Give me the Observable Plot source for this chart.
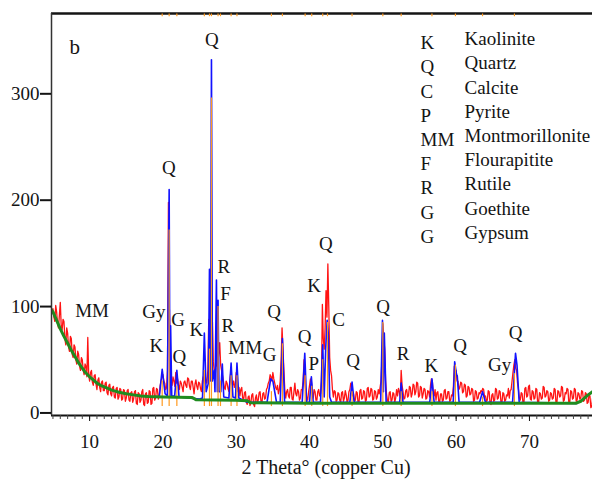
<!DOCTYPE html>
<html><head><meta charset="utf-8">
<script src="https://cdn.jsdelivr.net/npm/d3@7"></script>
<script src="https://cdn.jsdelivr.net/npm/@observablehq/plot@0.6"></script>
<style>body{margin:0;background:#fff} svg{display:block}</style>
</head><body><div id="chart"></div>
<script>
// Observed pattern (red), 2θ from 5° in 0.125° steps (8 values per degree)
const obsStart = 5, obsStep = 0.125;
const observed = [
 98,90,86,101,95,84,80,92,   104,82,78,88,86,70,64,80,   75,62,58,72,70,55,52,64,
 62,50,46,58,55,44,40,52,    50,40,36,46,44,34,71,36,    30,38,40,29,26,35,36,27,
 22,31,33,24,20,29,30,21,    21,28,29,19,17,26,27,18,    16,24,25,15,14,23,24,13,
 15,23,22,12,13,22,21,11,    14,21,22,12,11,19,20,10,    13,20,21,9,8,19,18,10,
 12,20,22,8,7,18,19,9,       10,21,20,8,9,23,24,12,      14,23,22,13,16,26,30,34,
 36,30,28,22,24,40,198,100,  58,30,26,34,30,25,38,28,    32,26,22,30,28,24,20,29,
 30,26,24,33,32,25,22,30,    30,24,18,27,31,25,22,29,    28,23,20,30,34,28,36,30,
 28,40,88,70,120,60,86,48,   40,32,55,44,48,56,66,45,    40,35,30,24,22,30,28,23,
 20,30,38,28,26,30,24,28,    38,28,20,24,16,22,24,14,    12,19,20,10,8,15,16,7,
 10,17,18,8,6,14,17,9,       12,19,20,11,9,18,19,13,     14,22,24,28,30,36,34,30,
 38,32,28,24,22,26,18,22,    30,50,80,60,40,22,14,20,    22,16,14,24,24,13,12,20,
 28,18,16,22,20,12,14,22,    22,30,50,28,20,14,12,20,    26,32,30,20,14,22,20,12,
 12,20,22,16,18,30,102,70,   60,80,115,90,140,100,52,40, 35,22,15,21,20,11,12,19,
 18,12,10,19,20,11,14,21,    17,10,12,20,22,28,26,16,    18,11,12,20,19,9,10,21,
 22,13,14,21,20,11,12,23,    24,15,16,23,22,12,13,21,    20,13,15,22,18,24,30,50,
 84,70,60,30,18,12,10,19,    20,11,12,19,18,10,14,22,    16,23,20,14,40,26,20,13,
 14,21,22,15,16,25,24,15,    18,27,26,17,20,29,28,15,    16,25,24,14,18,23,22,13,
 14,21,20,15,26,32,30,18,    16,22,12,19,20,11,10,18,    18,11,12,21,22,13,14,20,
 20,11,12,17,16,25,44,38,    40,30,30,22,24,29,28,19,    20,27,26,15,16,25,24,17,
 18,23,22,11,12,21,20,13,    14,19,18,21,20,23,22,15,    16,11,12,21,20,9,8,17,
 18,11,12,23,22,13,14,21,    20,9,10,19,18,11,12,17,     16,23,14,21,22,30,38,45,
 50,42,40,28,22,14,12,19,    18,9,10,23,24,15,16,25,     26,13,12,21,20,13,14,23,
 22,9,10,19,18,13,14,25,     24,15,16,21,20,11,12,19,    18,13,14,23,22,9,10,21,
 20,15,16,25,24,11,12,19,    18,23,22,9,10,21,20,13,     14,23,22,11,12,19,18,13,
 14,21,20,11,12,19,18,9,     10,17,16,5,6,15,14,8
];
// Fitted profile (blue)
const fitX = [18,19.5,19.9,20.3,20.6,20.85,20.95,21.05,21.2,21.6,21.9,22.2,25,25.4,25.65,25.9,26.2,26.35,26.5,26.62,26.75,27,27.1,27.3,27.42,27.52,27.65,27.9,28.1,28.3,29,29.3,29.55,29.9,30.1,30.35,31.5,34.2,34.7,35,35.5,36,36.3,36.6,39,39.35,39.6,40,40.25,40.5,41.5,41.8,42,42.2,42.4,42.55,42.75,43,45.5,45.8,46.1,49.7,49.95,50.08,50.2,50.45,52.3,52.5,52.75,56.4,56.7,57,59.6,59.8,60.05,60.15,60.4,63.2,63.6,64,67.7,68.1,68.3,68.6,76.5];
const fitY = [15,15,41,18,16,210,16,82,16,16,40,15,13,14,75,20,28,135,30,332,30,40,20,125,20,106,20,20,46,15,14,47,15,14,47,14,10,10,32,30,10,10,70,10,10,56,10,10,34,10,10,64,15,60,87,75,15,10,10,29,10,10,87,20,75,10,10,28,10,10,32,10,10,48,36,35,10,10,20,10,10,56,45,10,9];
// Reference peak sticks (orange)
const stickX = [19.9,20.85,21.9,25.65,26.35,26.62,27.52,27.85,29.3,30.1,34.8,36.3,39.4,40.3,41.8,42.45,45.8,50.0,52.5,56.7,59.9,63.6,67.95];
const stickY = [30,172,25,40,60,296,100,30,35,35,20,65,35,25,50,85,20,85,20,20,45,15,37];
// Background (green)
const bgX = [4.8,5,5.5,6,6.5,7,7.5,8,8.5,9,9.5,10,10.5,11,11.5,12,12.5,13,13.5,14,15,16,17,18,20,24,24.5,30,31.5,32,40,50,60,70,76.3,77,77.5,78,78.6];
const bgY = [97,95,87,79,72,65.5,59,53,47,42,37.5,34,31,28,26,24.5,23,21.5,20.5,19.5,18,17,16,15.5,15,14.5,12.5,12,11.5,9.5,9,9,9,9,9,11,14,17,20];
// Peak annotations
const peakLabels = ["Q","Q","MM","Gy","K","G","Q","K","R","F","R","MM","G","Q","Q","P","K","Q","C","Q","Q","R","K","Q","Gy","Q"];
const peakLabelX = [26.66,20.81,10.33,18.77,19.11,22.06,22.24,24.57,28.31,28.54,28.85,31.22,34.56,35.18,39.32,40.58,40.63,42.21,43.95,45.96,50.05,52.75,56.61,60.55,65.94,68.1];
const peakLabelY = [350.9,230.5,95.7,95.2,63.4,87.4,52.6,78.4,137.7,112,82.2,61.1,55,94.9,71.8,46.5,119.3,159.3,87.4,48.5,100,55.2,44.6,62.7,45.5,75.2];
const legendCodes = ["K","Q","C","P","MM","F","R","G","G"];
const legendNames = ["Kaolinite","Quartz","Calcite","Pyrite","Montmorillonite","Flourapitite","Rutile","Goethite","Gypsum"];
const yTicks = [0,100,200,300];
const xTicks = [10,20,30,40,50,60,70];
const xTitle = "2 Theta° (copper Cu)";
const panelLabel = "b";

const obsData = observed.map((v, i) => ({x: obsStart + i * obsStep, y: v}));
const fitData = fitX.map((x, i) => ({x, y: fitY[i]}));
const sticks = stickX.map((x, i) => ({x, y: stickY[i]}));
const bgData = bgX.map((x, i) => ({x, y: bgY[i]}));
const labels = peakLabels.map((t, i) => ({t, x: peakLabelX[i], y: peakLabelY[i]}));
const minorTicks = d3.range(5, 79);

const X0 = 4.8, X1 = 78.6, Y0 = -2.4, Y1 = 375.5;
const RED = "#ff1414", BLUE = "#1212ff", ORANGE = "#ff9a1f", GREEN = "#1f8c1f", INK = "#141414";
// legend layout (data units)
const legCodeX = 55.14, legNameX = 61.14, legTopY = 349.6, legStep = 22.75;

const chart = Plot.plot({
  width: 592, height: 489,
  marginLeft: 51, marginRight: 0, marginTop: 13, marginBottom: 74,
  x: {domain: [X0, X1]},
  y: {domain: [Y0, Y1]},
  style: {fontFamily: "'Liberation Serif', 'Times New Roman', serif", fontSize: "19px", background: "#fff", color: INK},
  marks: [
    Plot.line(obsData, {x: "x", y: "y", stroke: RED, strokeWidth: 1.3, clip: true}),
    Plot.line(fitData, {x: "x", y: "y", stroke: BLUE, strokeWidth: 1.6, clip: true}),
    Plot.ruleX(sticks, {x: "x", y1: 6, y2: "y", stroke: ORANGE, strokeWidth: 1.2, clip: true}),
    Plot.line(bgData, {x: "x", y: "y", stroke: GREEN, strokeWidth: 3, clip: true}),
    // frame
    Plot.ruleY([Y1], {stroke: INK, strokeWidth: 2.5}),
    Plot.ruleY([Y0], {stroke: INK, strokeWidth: 2}),
    Plot.ruleX([X0], {stroke: "#333", strokeWidth: 1.5}),
    Plot.ruleX(stickX, {y1: 372.5, y2: Y1 - 0.5, stroke: ORANGE, strokeWidth: 1.2}),
    // axes
    Plot.axisY(yTicks, {anchor: "left", tickSize: 11, tickPadding: 1, strokeWidth: 2, fontSize: 19, label: null}),
    Plot.axisX(minorTicks, {anchor: "bottom", tickSize: 4, text: null, label: null, stroke: "#444"}),
    Plot.axisX(xTicks, {anchor: "bottom", tickSize: 6, tickPadding: 13, fontSize: 19, label: null}),
    Plot.text([xTitle], {frameAnchor: "bottom", dx: 4, dy: 58, fontSize: 20, fill: INK}),
    // annotations
    Plot.text([panelLabel], {x: () => 7.96, y: () => 343.3, text: d => d, fontSize: 21, fill: INK}),
    Plot.text(labels, {x: "x", y: "y", text: "t", fontSize: 19, fill: INK}),
    // legend
    Plot.text(legendCodes, {x: () => legCodeX, y: (d, i) => legTopY - i * legStep, text: d => d, textAnchor: "start", dy: 2, fontSize: 19, fill: INK}),
    Plot.text(legendNames, {x: () => legNameX, y: (d, i) => legTopY - i * legStep, text: d => d, textAnchor: "start", dy: -2, fontSize: 19, fill: INK})
  ]
});
document.getElementById("chart").appendChild(chart);
</script>
</body></html>
